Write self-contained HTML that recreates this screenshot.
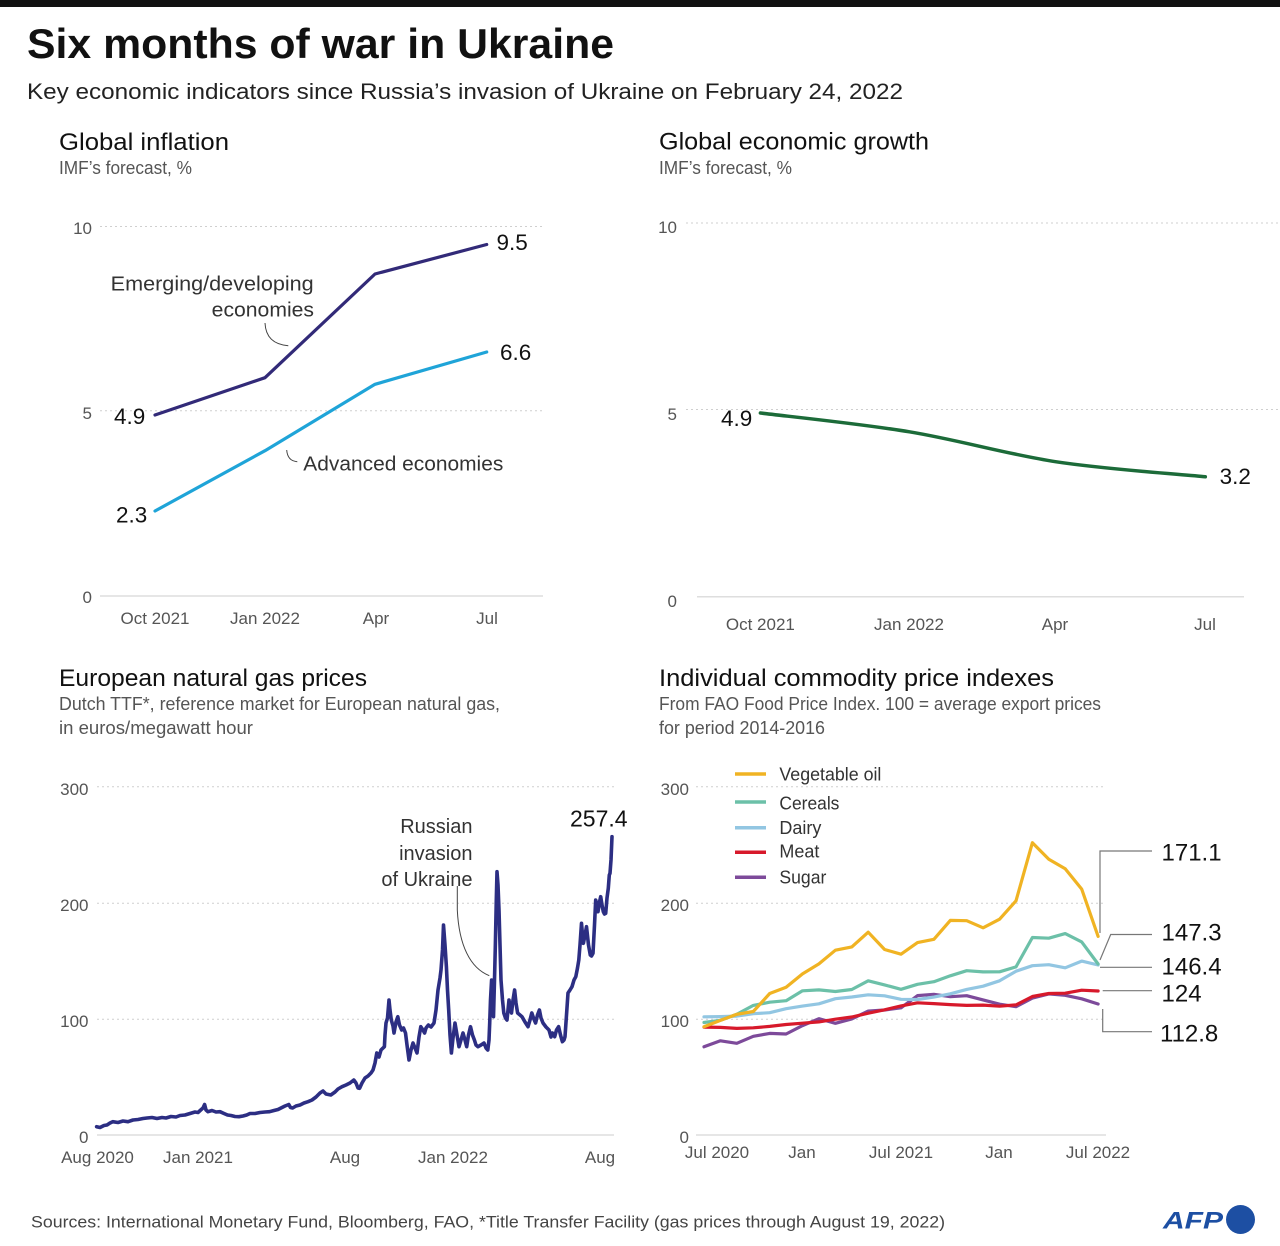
<!DOCTYPE html>
<html>
<head>
<meta charset="utf-8">
<style>
html,body{margin:0;padding:0;background:#fff;}
svg{display:block;font-family:"Liberation Sans",sans-serif;}
</style>
</head>
<body>
<svg width="1280" height="1246" viewBox="0 0 1280 1246" xmlns="http://www.w3.org/2000/svg">
<rect width="1280" height="1246" fill="#fff"/>
<rect x="0" y="0" width="1280" height="7" fill="#111"/>

<!-- Header -->
<text x="27" y="58" font-size="42" font-weight="bold" fill="#111" textLength="587" lengthAdjust="spacingAndGlyphs">Six months of war in Ukraine</text>
<text x="27" y="99" font-size="22.5" fill="#222" textLength="876" lengthAdjust="spacingAndGlyphs">Key economic indicators since Russia’s invasion of Ukraine on February 24, 2022</text>

<!-- ============ Chart 1: Global inflation ============ -->
<text x="59" y="150" font-size="24" fill="#111" textLength="170" lengthAdjust="spacingAndGlyphs">Global inflation</text>
<text x="59" y="174" font-size="18" fill="#555" textLength="133" lengthAdjust="spacingAndGlyphs">IMF’s forecast, %</text>

<g stroke="#cfcfcf" stroke-width="1" stroke-dasharray="2,3">
<line x1="100" y1="226.5" x2="543" y2="226.5"/>
<line x1="100" y1="410.7" x2="543" y2="410.7"/>
</g>
<line x1="100" y1="596" x2="543" y2="596" stroke="#dedede" stroke-width="1.5"/>
<g font-size="17" fill="#555" text-anchor="end">
<text x="92" y="234">10</text>
<text x="92" y="419">5</text>
<text x="92" y="603">0</text>
</g>
<g font-size="17" fill="#555" text-anchor="middle">
<text x="155" y="624">Oct 2021</text>
<text x="265" y="624">Jan 2022</text>
<text x="376" y="624">Apr</text>
<text x="487" y="624">Jul</text>
</g>
<polyline points="155,415 265,377.7 375,274 486.7,244.5" fill="none" stroke="#322a78" stroke-width="3.2" stroke-linejoin="round" stroke-linecap="round"/>
<polyline points="155,511 265,450.7 375,384.3 486.7,352" fill="none" stroke="#1fa4d8" stroke-width="3.2" stroke-linejoin="round" stroke-linecap="round"/>
<g font-size="22.5" fill="#111">
<text x="496.5" y="250">9.5</text>
<text x="500" y="360">6.6</text>
<text x="114" y="424">4.9</text>
<text x="116" y="522.7">2.3</text>
</g>
<g font-size="20" fill="#333">
<text x="110.7" y="290.7" textLength="203" lengthAdjust="spacingAndGlyphs">Emerging/developing</text>
<text x="211.7" y="316.7" textLength="102.3" lengthAdjust="spacingAndGlyphs">economies</text>
<text x="303.3" y="470.7" textLength="200" lengthAdjust="spacingAndGlyphs">Advanced economies</text>
</g>
<path d="M265,323 Q266,344 288.3,345.7" fill="none" stroke="#444" stroke-width="1"/>
<path d="M286.7,450 Q287.5,461 297.3,461.7" fill="none" stroke="#444" stroke-width="1"/>

<!-- ============ Chart 2: Global economic growth ============ -->
<text x="659" y="149.5" font-size="24" fill="#111" textLength="270" lengthAdjust="spacingAndGlyphs">Global economic growth</text>
<text x="659" y="174" font-size="18" fill="#555" textLength="133" lengthAdjust="spacingAndGlyphs">IMF’s forecast, %</text>

<g stroke="#cfcfcf" stroke-width="1" stroke-dasharray="2,3">
<line x1="686" y1="223" x2="1280" y2="223"/>
<line x1="686" y1="409.5" x2="1280" y2="409.5"/>
</g>
<line x1="697" y1="596.7" x2="1244" y2="596.7" stroke="#dedede" stroke-width="1.5"/>
<g font-size="17" fill="#555" text-anchor="end">
<text x="677" y="233">10</text>
<text x="677" y="420">5</text>
<text x="677" y="607">0</text>
</g>
<g font-size="17" fill="#555" text-anchor="middle">
<text x="760.4" y="630">Oct 2021</text>
<text x="909" y="630">Jan 2022</text>
<text x="1055" y="630">Apr</text>
<text x="1205" y="630">Jul</text>
</g>
<path d="M760.4,413 C785.2,416.1 860.1,423.7 909.4,431.8 C958.7,439.9 1007,454.3 1056.3,461.8 C1105.6,469.3 1180.5,474.3 1205.3,476.8" fill="none" stroke="#1c6b39" stroke-width="3.5" stroke-linecap="round"/>
<g font-size="22.5" fill="#111">
<text x="721" y="426">4.9</text>
<text x="1219.6" y="484">3.2</text>
</g>

<!-- ============ Chart 3: European natural gas prices ============ -->
<text x="59" y="686" font-size="24" fill="#111" textLength="308" lengthAdjust="spacingAndGlyphs">European natural gas prices</text>
<text x="59" y="710" font-size="18" fill="#555" textLength="441" lengthAdjust="spacingAndGlyphs">Dutch TTF*, reference market for European natural gas,</text>
<text x="59" y="734" font-size="18" fill="#555" textLength="194" lengthAdjust="spacingAndGlyphs">in euros/megawatt hour</text>

<g stroke="#cfcfcf" stroke-width="1" stroke-dasharray="2,3">
<line x1="97" y1="786.7" x2="614" y2="786.7"/>
<line x1="97" y1="903.3" x2="614" y2="903.3"/>
<line x1="97" y1="1019.3" x2="614" y2="1019.3"/>
</g>
<line x1="97" y1="1135" x2="614" y2="1135" stroke="#dedede" stroke-width="1.5"/>
<g font-size="17" fill="#555" text-anchor="end">
<text x="88.5" y="795">300</text>
<text x="88.5" y="911">200</text>
<text x="88.5" y="1027">100</text>
<text x="88.5" y="1143">0</text>
</g>
<g font-size="17" fill="#555" text-anchor="middle">
<text x="97.5" y="1163">Aug 2020</text>
<text x="198" y="1163">Jan 2021</text>
<text x="345" y="1163">Aug</text>
<text x="453" y="1163">Jan 2022</text>
<text x="600" y="1163">Aug</text>
</g>
<polyline fill="none" stroke="#2c2e83" stroke-width="3.6" stroke-linejoin="round" stroke-linecap="round" points="96.6,1126.7 100,1127.5 104,1125.5 107,1125 110,1123 112.7,1121.7 118,1122.5 123,1121 128,1121.7 133,1120 138,1119.5 143,1118.5 147,1118 152,1117.5 157,1118.5 162,1117.5 166,1118 171,1116.5 176,1117 180,1115.5 185,1115 190,1113.5 195,1112 198,1112.5 200.7,1110 203,1108 204.6,1104.5 206,1110 208,1111.7 212,1110.5 216,1112 220,1111.7 224,1113.5 227.5,1115 231,1115.5 235,1116.5 239,1116.7 243,1116 246.7,1115 250,1113.5 255,1113.5 260,1112.5 265,1112 269.6,1111.7 274,1110.5 278,1109.5 281,1108 285,1106 288.8,1104.5 290.5,1107.5 292.6,1108 296,1106 300,1105 304,1103 308,1101.7 312,1100 316,1097 320,1093 323,1091 326,1094 330.8,1095 335,1092 338,1089 342,1086.7 346,1085 350,1083 353.8,1080 356,1083 358,1088 359.6,1088.3 362,1083 365,1078 368,1076 371,1073 373,1070 375,1063 376.8,1053 379,1057 381,1050 384.4,1046.7 385,1035 386,1023 387.5,1018 389,1000 390,1010 391.3,1020 393,1026 394,1033 396,1022 397.8,1016.7 399.5,1025 401.7,1030 403.5,1028 405.5,1033 407,1045 409,1060 411,1050 413,1043 415,1048 417,1053 419,1037 420.8,1026.7 423,1030 424.6,1033 426,1028 428.4,1025 431,1027 434,1023 436,1010 438,990 440,978 441,970 442.5,950 443.5,925 445,945 446.4,966.7 447.5,990 448.7,1010 450,1035 451.4,1053 453,1038 455,1023 457,1035 459,1046.7 461,1040 463,1033 465,1040 466.7,1046.7 468.5,1035 470.5,1026.7 472.5,1035 474.4,1040 476,1045 478,1046.7 481,1045 484,1043 486,1048 487.8,1050 489,1040 489.7,1023 490.5,1000 491.6,980 492.5,1000 493.5,1016.7 494.5,980 495.4,943 496.3,900 497,871.7 498,885 499,910 500,945 501,980 502.5,1000 503.8,1013 505.5,1018 507,1020 508,1010 509,1000 510,1008 511.5,1013 513,1000 514.6,990 516,1003 517.6,1013 520,1015 522,1016.7 525,1022 528,1026.7 530,1020 531.8,1013 533.5,1018 535.6,1023 537.5,1015 539.4,1010 541,1018 543,1023 546,1027 549,1030 551,1037 552.5,1033 554.7,1036.7 556.5,1030 558.6,1026.7 560.5,1035 562.4,1041.7 564,1040 565,1036.7 566.5,1015 568,993 570,990 572,986.7 574,980 575.8,976.7 577.5,968 578.8,960 580,945 581.5,923.3 582.5,935 583.4,943.3 585,935 586.5,926.7 588.5,945 590.3,955 591.5,956 593,953.3 594.5,925 595.7,900 597,905 598,911.7 599.5,902 600.7,896.7 602,905 603.3,911.7 604.5,914 605.7,913.3 607,898 608.3,888.3 609.3,875 610,873.3 611,860 612,836.7"/>
<text x="570" y="826.7" font-size="23" fill="#111">257.4</text>
<g font-size="20" fill="#333" text-anchor="end">
<text x="472.5" y="833">Russian</text>
<text x="472.5" y="860">invasion</text>
<text x="472.5" y="886">of Ukraine</text>
</g>
<path d="M457.3,886 L457.3,910 C459,945 470,968 489.3,975.7" fill="none" stroke="#444" stroke-width="1"/>

<!-- ============ Chart 4: Individual commodity price indexes ============ -->
<text x="659" y="686" font-size="24" fill="#111" textLength="395" lengthAdjust="spacingAndGlyphs">Individual commodity price indexes</text>
<text x="659" y="710" font-size="18" fill="#555" textLength="442" lengthAdjust="spacingAndGlyphs">From FAO Food Price Index. 100 = average export prices</text>
<text x="659" y="734" font-size="18" fill="#555" textLength="166" lengthAdjust="spacingAndGlyphs">for period 2014-2016</text>

<g stroke="#cfcfcf" stroke-width="1" stroke-dasharray="2,3">
<line x1="696" y1="786.7" x2="1106" y2="786.7"/>
<line x1="696" y1="903.3" x2="1106" y2="903.3"/>
<line x1="696" y1="1019.3" x2="1106" y2="1019.3"/>
</g>
<line x1="696" y1="1135" x2="1106" y2="1135" stroke="#dedede" stroke-width="1.5"/>
<g font-size="17" fill="#555" text-anchor="end">
<text x="689" y="795">300</text>
<text x="689" y="911">200</text>
<text x="689" y="1027">100</text>
<text x="689" y="1143">0</text>
</g>
<g font-size="17" fill="#555" text-anchor="middle">
<text x="717" y="1158">Jul 2020</text>
<text x="802" y="1158">Jan</text>
<text x="901" y="1158">Jul 2021</text>
<text x="999" y="1158">Jan</text>
<text x="1098" y="1158">Jul 2022</text>
</g>

<g fill="none" stroke-width="3.2" stroke-linejoin="round" stroke-linecap="round">
<polyline stroke="#7d4a9a" points="704,1046.8 720.4,1040.8 736.8,1043.3 753.3,1036.3 769.7,1033.4 786.1,1034 802.5,1025.6 818.9,1018.7 835.4,1023.3 851.8,1018.9 868.2,1011.1 884.6,1010 901,1007.8 917.5,995.6 933.9,994.3 950.3,996.7 966.7,995.7 983.1,999.9 999.6,1004.2 1016,1006.7 1032.4,998.1 1048.8,993.9 1065.2,995.3 1081.7,998.8 1098.1,1004"/>
<polyline stroke="#d7192b" points="704,1027.1 720.4,1027.4 736.8,1028.4 753.3,1027.8 769.7,1026.4 786.1,1024.5 802.5,1023.2 818.9,1021.9 835.4,1019.2 851.8,1017 868.2,1013.2 884.6,1009.8 901,1005.9 917.5,1002.8 933.9,1003.6 950.3,1004.6 966.7,1005.4 983.1,1005.1 999.6,1006.2 1016,1004.9 1032.4,996.5 1048.8,993.5 1065.2,993.2 1081.7,990.2 1098.1,991"/>
<polyline stroke="#92c6e2" points="704,1016.8 720.4,1016.6 736.8,1016.1 753.3,1013.7 769.7,1012.7 786.1,1008.7 802.5,1006.1 818.9,1003.8 835.4,998.7 851.8,997 868.2,994.8 884.6,995.8 901,999.3 917.5,999.5 933.9,997.1 950.3,993.8 966.7,989.4 983.1,986.2 999.6,980.8 1016,971.2 1032.4,965.7 1048.8,964.7 1065.2,967.8 1081.7,961.1 1098.1,965"/>
<polyline stroke="#6cc0a8" points="704,1022.5 720.4,1020.3 736.8,1014.3 753.3,1005.4 769.7,1002.2 786.1,1000.7 802.5,990.8 818.9,989.9 835.4,991.5 851.8,989.5 868.2,980.8 884.6,984.9 901,989.3 917.5,984.3 933.9,981.7 950.3,975.8 966.7,970.7 983.1,971.9 999.6,971.8 1016,966.9 1032.4,937.5 1048.8,938.2 1065.2,933.6 1081.7,941.9 1098.1,964"/>
<polyline stroke="#f0b323" points="704,1026.8 720.4,1020.4 736.8,1014.3 753.3,1011.5 769.7,993.5 786.1,987.3 802.5,973.9 818.9,963.9 835.4,950.2 851.8,946.9 868.2,932.2 884.6,949.5 901,954.2 917.5,942.6 933.9,939.3 950.3,920.4 966.7,920.7 983.1,927.8 999.6,919.2 1016,900.8 1032.4,842.7 1048.8,859.3 1065.2,868.8 1081.7,889.1 1098.1,936.4"/>
</g>

<!-- Legend -->
<g stroke-width="3.5">
<line x1="735" y1="774" x2="766" y2="774" stroke="#f0b323"/>
<line x1="735" y1="802" x2="766" y2="802" stroke="#6cc0a8"/>
<line x1="735" y1="827.7" x2="766" y2="827.7" stroke="#92c6e2"/>
<line x1="735" y1="852.3" x2="766" y2="852.3" stroke="#d7192b"/>
<line x1="735" y1="877.3" x2="766" y2="877.3" stroke="#7d4a9a"/>
</g>
<g font-size="18.5" fill="#333">
<text x="779.4" y="780.7" textLength="102" lengthAdjust="spacingAndGlyphs">Vegetable oil</text>
<text x="779.4" y="809.3" textLength="60" lengthAdjust="spacingAndGlyphs">Cereals</text>
<text x="779.4" y="834" textLength="42" lengthAdjust="spacingAndGlyphs">Dairy</text>
<text x="779.4" y="857.3" textLength="40" lengthAdjust="spacingAndGlyphs">Meat</text>
<text x="779.4" y="883.3" textLength="47" lengthAdjust="spacingAndGlyphs">Sugar</text>
</g>

<!-- End labels with leaders -->
<g fill="none" stroke="#777" stroke-width="1.2">
<path d="M1100,933 V851 H1152"/>
<path d="M1100,960 L1110.7,934.5 H1152"/>
<path d="M1100,967.3 H1152"/>
<path d="M1102.7,990.7 H1152"/>
<path d="M1102.7,1009 V1031.7 H1152"/>
</g>
<g font-size="24" fill="#111">
<text x="1161.5" y="860.3">171.1</text>
<text x="1161.5" y="940.3">147.3</text>
<text x="1161.5" y="974.6">146.4</text>
<text x="1161.5" y="1001.6">124</text>
<text x="1160" y="1041.6">112.8</text>
</g>

<!-- Footer -->
<text x="31" y="1227.5" font-size="17" fill="#444" textLength="914" lengthAdjust="spacingAndGlyphs">Sources: International Monetary Fund, Bloomberg, FAO, *Title Transfer Facility (gas prices through August 19, 2022)</text>
<text x="1163" y="1228.5" font-size="24.5" font-weight="bold" font-style="italic" fill="#1d4fa3" textLength="60" lengthAdjust="spacingAndGlyphs">AFP</text>
<circle cx="1240.5" cy="1219.5" r="14.5" fill="#1d4fa3"/>
</svg>
</body>
</html>
